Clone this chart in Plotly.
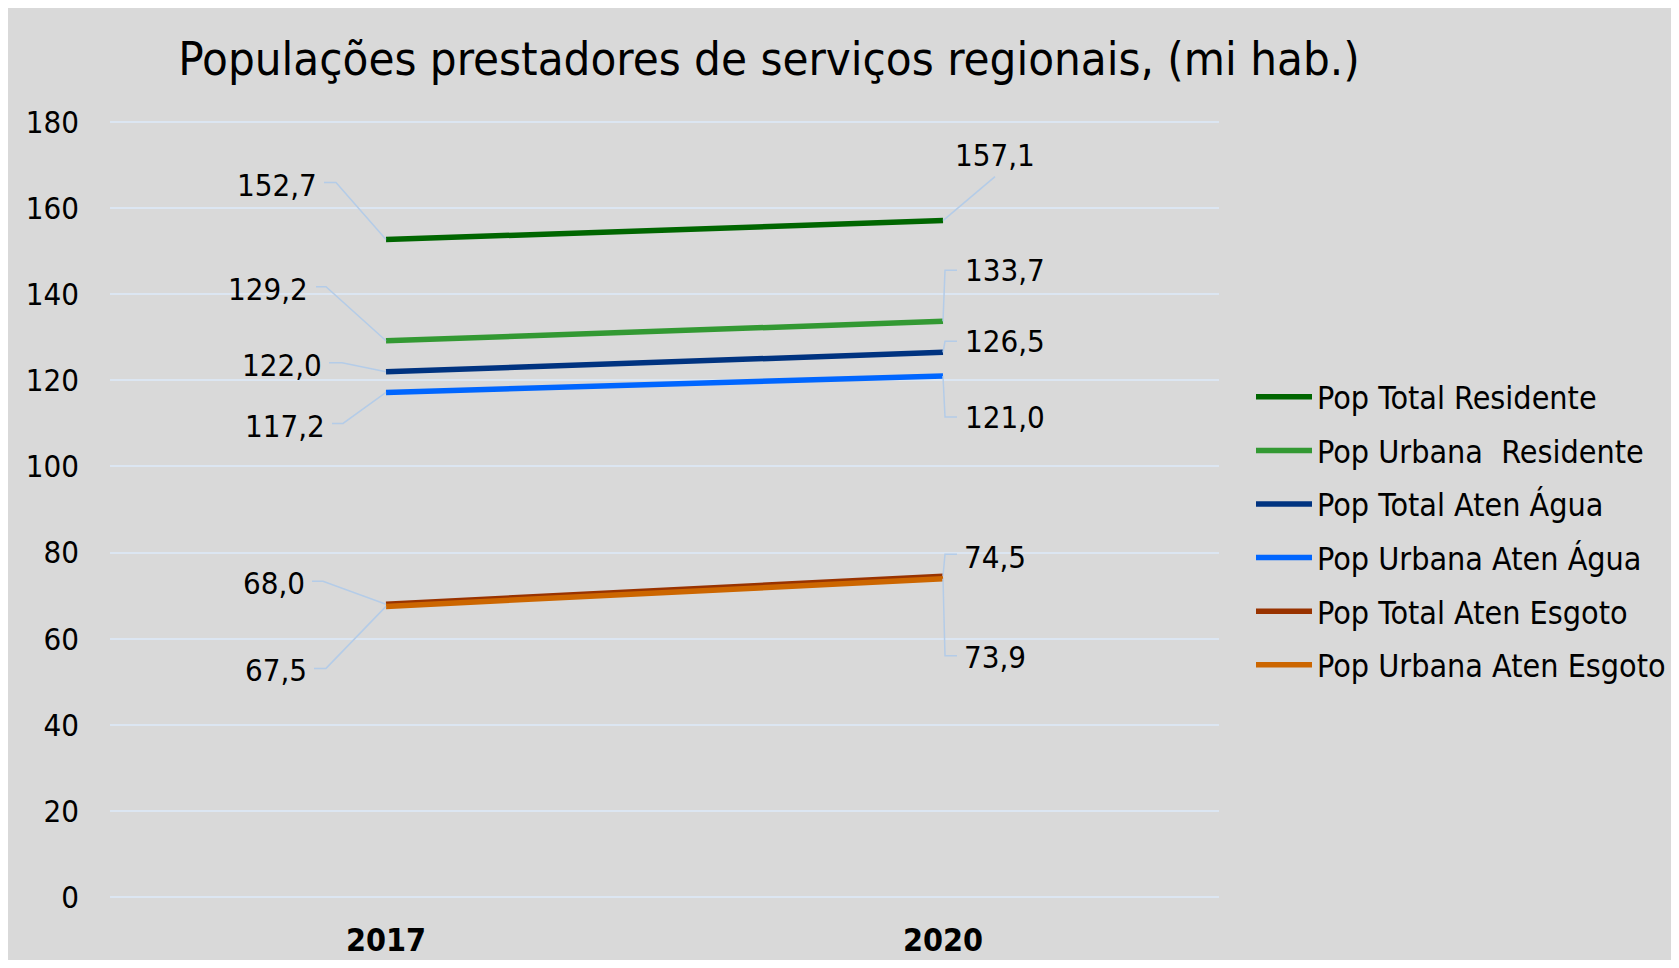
import plotly.graph_objects as go

# ---- data ----
years = ["2017", "2020"]
series_names = [
    "Pop Total Residente",
    "Pop Urbana  Residente",
    "Pop Total Aten Água",
    "Pop Urbana Aten Água",
    "Pop Total Aten Esgoto",
    "Pop Urbana Aten Esgoto",
]
pop_total_residente = [152.7, 157.1]
pop_urbana_residente = [129.2, 133.7]
pop_total_agua = [122.0, 126.5]
pop_urbana_agua = [117.2, 121.0]
pop_total_esgoto = [68.0, 74.5]
pop_urbana_esgoto = [67.5, 73.9]
y_ticks = [0, 20, 40, 60, 80, 100, 120, 140, 160, 180]
title_text = "Populações prestadores de serviços regionais, (mi hab.)"

series_values = [pop_total_residente, pop_urbana_residente, pop_total_agua,
                 pop_urbana_agua, pop_total_esgoto, pop_urbana_esgoto]

# ---- styling ----
colors = ["#006600", "#339933", "#003380", "#0066FF", "#993300", "#CC6600"]
# label placement in screen pixels relative to each point (y down):
# (text side, text x edge offset, text y offset, leader path as list of (dx, dy))
label_layout = [
    [("right", -67, -55, [(0, 0), (-50, -57), (-62, -57)]),
     ("center", 52, -66, [(0, 0), (52, -44)])],
    [("right", -76, -52, [(0, 0), (-60, -54), (-70, -54)]),
     ("left", 20, -51, [(0, 0), (2, -51), (14, -51)])],
    [("right", -62, -7, [(0, 0), (-44, -9), (-57, -9)]),
     ("left", 20, -11, [(0, 0), (2, -11), (14, -11)])],
    [("right", -59, 34, [(0, 0), (-43, 31), (-54, 31)]),
     ("left", 20, 41, [(0, 0), (2, 41), (14, 41)])],
    [("right", -79, -21, [(0, 0), (-63, -23), (-74, -23)]),
     ("left", 19, -19, [(0, 0), (2, -22), (14, -22)])],
    [("right", -77, 64, [(0, 0), (-60, 62), (-72, 62)]),
     ("left", 19, 78, [(0, 0), (2, 77), (14, 77)])],
]
FONT = "DejaVu Sans Condensed, DejaVu Sans, sans-serif"
GRID = "#DCE6F2"
LEADER = "#B4CCE8"
BG = "#D9D9D9"

fig = go.Figure()
for i, (name, vals) in enumerate(zip(series_names, series_values)):
    fig.add_trace(go.Scatter(
        x=years, y=vals, name=name, mode="lines",
        line=dict(color=colors[i], width=5.5),
        legendgroup=f"g{i}", hoverinfo="skip",
    ))

# figure coords (page coords minus the 8px body margin)
W, H = 1663, 952
L, R, T, B = 102, 1211, 112, 891
pw, ph = R - L, B - T
px_per_unit = 775 / 180
pad = 2 / px_per_unit
cat_step = 557  # pixels between categories
x0 = -(378 - L) / cat_step
x1 = x0 + pw / cat_step

fig.add_shape(type="rect", xref="paper", yref="paper", layer="below",
              x0=(3 - L) / pw, x1=(W + 20 - L) / pw,
              y0=(B - H - 20) / ph, y1=(B + 0.5) / ph,
              fillcolor=BG, line=dict(width=0))

annotations = []
for i, vals in enumerate(series_values):
    for j, v in enumerate(vals):
        side, tx, ty, leader = label_layout[i][j]
        annotations.append(dict(
            x=j, y=v, xref="x", yref="y",
            text=f"{v:.1f}".replace(".", ","),
            showarrow=False, xanchor=side, yanchor="middle",
            xshift=tx, yshift=-ty,
            font=dict(family=FONT, size=31, color="#000000"),
        ))
        path = "M " + " L ".join(f"{dx},{-dy}" for dx, dy in leader)
        fig.add_shape(type="path", xref="x", yref="y",
                      xsizemode="pixel", ysizemode="pixel",
                      xanchor=j, yanchor=v, path=path,
                      line=dict(color=LEADER, width=1.5))

fig.update_layout(
    width=W, height=H, autosize=False,
    margin=dict(l=L, r=W - R, t=T, b=H - B, autoexpand=False),
    paper_bgcolor=BG, plot_bgcolor="rgba(0,0,0,0)",
    title=dict(text=title_text, x=(761 - L) / pw, xref="paper", xanchor="center",
               y=1 - 51 / H, yanchor="middle", automargin=False,
               font=dict(family=FONT, size=47, color="#000000")),
    showlegend=True,
    legend=dict(x=(1243 - L) / pw, xanchor="left", y=(B - 523) / ph, yanchor="middle",
                bgcolor="rgba(0,0,0,0)", font=dict(family=FONT, size=32, color="#000000"),
                tracegroupgap=9, itemwidth=56),
    annotations=annotations,
    xaxis=dict(type="category", range=[x0, x1], showgrid=False, showline=False,
               zeroline=False, ticks="", ticklabelstandoff=19, automargin=False,
               tickfont=dict(family=FONT, size=32, color="#000000", weight="bold")),
    yaxis=dict(range=[-pad, 180 + pad], tickvals=y_ticks, showgrid=True, gridcolor=GRID,
               gridwidth=2, zeroline=False, showline=False, ticks="", ticklabelstandoff=30,
               automargin=False,
               tickfont=dict(family=FONT, size=31, color="#000000")),
)

fig.write_html("out.html", config={"displayModeBar": False})
